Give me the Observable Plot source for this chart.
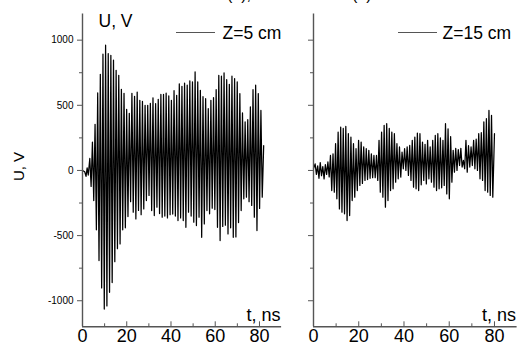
<!DOCTYPE html>
<html>
<head>
<meta charset="utf-8">
<script src="https://cdn.jsdelivr.net/npm/d3@7"></script>
<script src="https://cdn.jsdelivr.net/npm/@observablehq/plot@0.6"></script>
<style>
  html, body { margin: 0; padding: 0; background: #fff; }
  #wrap { position: relative; width: 517px; height: 349px; overflow: hidden; background: #fff;
          font-family: "Liberation Sans", Arial, sans-serif; }
  .panel { position: absolute; top: 0; }
  .legline { position: absolute; height: 0; border-top: 1.3px solid #555; }
  .toptxt { position: absolute; font-size: 16px; line-height: 16px; color: #000; }
</style>
</head>
<body>
<div id="wrap">
  <div class="toptxt" style="left:227px; top:-13px;">(a),</div>
  <div class="toptxt" style="left:352px; top:-13px;">(b)</div>
  <div id="left" class="panel" style="left:0px;"></div>
  <div id="right" class="panel" style="left:290px;"></div>
  <div class="legline" style="left:176px; top:32px; width:39px;"></div>
  <div class="legline" style="left:398px; top:32px; width:39px;"></div>
</div>
<script>
// ---- data ----
// Left panel, Z = 5 cm
const leftPreT = [0, 1.0, 1.6, 2.1, 2.6];
const leftPreU = [0, -10, -45, 20, -35];
const leftStart = 3.3;      // ns, first oscillation peak
const leftPeriod = 1.19;    // ns
const leftPeaks = [92, 218, 354, 595, 738, 892, 961, 897, 884, 846, 769, 730, 623, 592, 469, 438,
  592, 569, 602, 538, 530, 500, 500, 515, 557, 512, 546, 583, 583, 593, 572, 538, 612, 577,
  665, 646, 671, 654, 687, 679, 756, 679, 615, 566, 551, 474, 538, 559, 620, 730, 723, 748,
  697, 661, 723, 705, 679, 590, 441, 372, 390, 487, 620, 654, 590, 461];
const leftTroughs = [-123, -231, -456, -692, -902, -1064, -1040, -935, -860, -700, -600, -564,
  -456, -440, -354, -240, -320, -372, -307, -340, -295, -231, -192, -308, -346, -282, -331,
  -359, -350, -364, -340, -335, -350, -385, -364, -385, -436, -320, -350, -397, -423, -359,
  -513, -410, -308, -333, -290, -300, -436, -538, -430, -420, -487, -440, -513, -510, -400,
  -308, -218, -205, -240, -269, -359, -461, -292, -205];
const leftEndT = 81.9, leftEndU = 190;

// Right panel, Z = 15 cm
const rightPreT = [0];
const rightPreU = [15];
const rightStart = 0.72;
const rightPeriod = 1.13;
const rightPeaks = [50, 35, 60, 30, 45, 65,
  115, 128, 205, 295, 333, 322, 338, 282, 256, 205, 167, 231, 218, 180, 167, 154, 128, 115, 115,
  231, 295, 346, 359, 322, 295, 282, 205, 180,
  141, 167, 180, 192, 231, 256, 287, 282, 218, 200, 231, 180, 231, 269, 282, 250, 231, 359, 320,
  260, 154, 170, 160, 170, 77, 231, 190, 180, 231, 240, 282, 290, 372, 397, 461, 423];
const rightTroughs = [-30, -60, -40, -65, -30, -50,
  -154, -167, -218, -295, -320, -333, -385, -346, -231, -205, -154, -115, -100, -77, -70, -60, -55, -55,
  -77, -167, -205, -282, -231, -154, -141, -90, -64, -51,
  13, 0, -38, -77, -128, -141, -154, -110, -77, -103, -64, -90, -128, -154, -141, -133, -115, -180,
  -218, -90, -13, 0, 38, 26, 13, -13, 26, 38, 13, 0, -64, -77, -154, -167, -192, -205];
const rightEndT = 80.0, rightEndU = 282;

const xMajor = [0, 20, 40, 60, 80];
const xMinor = [10, 30, 50, 70];
const yMajor = [-1000, -500, 0, 500, 1000];
const yMinor = [-750, -250, 250, 750];
const legendLeft = "Z=5 cm";
const legendRight = "Z=15 cm";

function build(preT, preU, t0, period, peaks, troughs, endT, endU) {
  const pts = preT.map((t, i) => ({t, u: preU[i]}));
  peaks.forEach((p, i) => {
    pts.push({t: t0 + i * period, u: p});
    if (i < troughs.length) pts.push({t: t0 + (i + 0.5) * period, u: troughs[i]});
  });
  pts.push({t: endT, u: endU});
  return pts;
}

const leftData = build(leftPreT, leftPreU, leftStart, leftPeriod, leftPeaks, leftTroughs, leftEndT, leftEndU);
const rightData = build(rightPreT, rightPreU, rightStart, rightPeriod, rightPeaks, rightTroughs, rightEndT, rightEndU);

const FONT = "'Liberation Sans', Arial, sans-serif";
const axisColor = "#555";

function panel({data, width, marginLeft, marginRight, yLabels, legend, legendDx}) {
  const marks = [
    Plot.line(data, {x: "t", y: "u", stroke: "#000", strokeWidth: 1.25}),
    Plot.ruleX([0], {stroke: axisColor, strokeWidth: 1.4}),
    Plot.ruleY([-1200], {stroke: axisColor, strokeWidth: 1.4}),
    Plot.axisY({ticks: yMajor, tickSize: 5, tickPadding: 4, fontSize: 10, label: null,
                stroke: axisColor, tickFormat: yLabels ? (d => String(d)) : (() => "")}),
    Plot.axisY({ticks: yMinor, tickSize: 3, label: null, stroke: axisColor, tickFormat: () => ""}),
    Plot.axisX({ticks: xMajor, tickSize: 0, tickPadding: 2, fontSize: 18, label: null}),
    Plot.axisX({ticks: xMajor, tickSize: -5, label: null, stroke: axisColor, tickFormat: () => ""}),
    Plot.axisX({ticks: xMinor, tickSize: -3, label: null, stroke: axisColor, tickFormat: () => ""}),
    Plot.text([legend], {frameAnchor: "top-left", dx: legendDx, dy: 19, fontSize: 17.5,
                          textAnchor: "start", lineAnchor: "middle", fill: "#000"}),
    Plot.text(["t, ns"], {frameAnchor: "bottom-right", dx: -1, dy: -6, fontSize: 18,
                          textAnchor: "end", lineAnchor: "bottom", fill: "#000"})
  ];
  if (yLabels) {
    marks.push(Plot.text(["U, V"], {frameAnchor: "top-left", dx: 16, dy: 0, fontSize: 17.5,
                          textAnchor: "start", lineAnchor: "top", fill: "#000"}));
    marks.push(Plot.text(["U, V"], {frameAnchor: "left", dx: -63, dy: -4, rotate: -90, fontSize: 15,
                          textAnchor: "middle", fill: "#000"}));
  }
  return Plot.plot({
    width, height: 349,
    marginLeft, marginRight, marginTop: 13.6, marginBottom: 22.7,
    style: {fontFamily: FONT, background: "transparent", overflow: "visible", color: "#000"},
    x: {domain: [0, 90]},
    y: {domain: [-1200, 1200]},
    marks
  });
}

document.getElementById("left").appendChild(panel({
  data: leftData, width: 290, marginLeft: 82, marginRight: 8.9, yLabels: true,
  legend: legendLeft, legendDx: 140
}));
document.getElementById("right").appendChild(panel({
  data: rightData, width: 227, marginLeft: 23, marginRight: 0.4, yLabels: false,
  legend: legendRight, legendDx: 129
}));
</script>
</body>
</html>
